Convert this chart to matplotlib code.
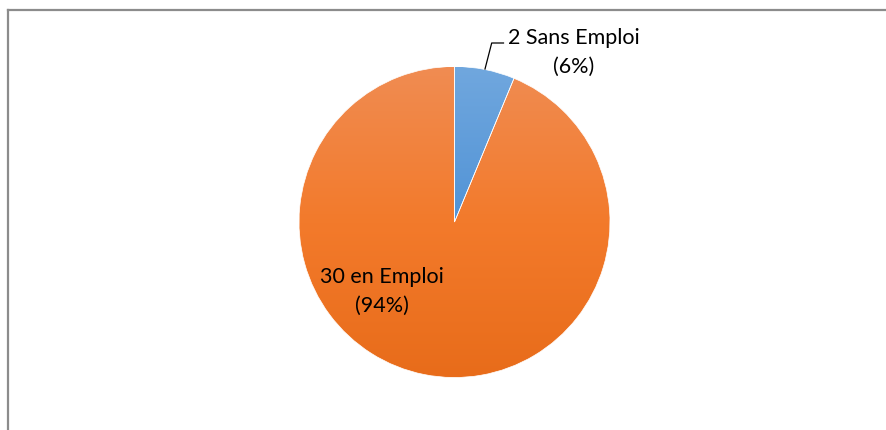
import numpy as np
import matplotlib
matplotlib.use("Agg")
import matplotlib.pyplot as plt
from matplotlib.colors import LinearSegmentedColormap
from matplotlib.lines import Line2D

# --- Data ---
categories = ["Sans Emploi", "en Emploi"]
counts = [2, 30]
# gradient (top, middle, bottom colour) per slice
top_colors = ["#70A7DE", "#F08C52"]
mid_colors = ["#5193D6", "#F37A2B"]
bottom_colors = ["#4285CF", "#E86C1A"]

plt.rcParams["font.family"] = ["Lato", "DejaVu Sans"]

W, H = 886, 431
fig = plt.figure(figsize=(W / 100, H / 100), dpi=100)
fig.patch.set_facecolor("white")
ax = fig.add_axes([0, 0, 1, 1])

cx, cy, r = 454.5, H - 223, 155.5
wedges, _ = ax.pie(counts, startangle=90, counterclock=False,
                   center=(cx, cy), radius=r, colors=mid_colors,
                   wedgeprops=dict(linewidth=0), frame=True)
ax.set_xlim(0, W)
ax.set_ylim(0, H)
ax.set_aspect("equal")
ax.axis("off")

# vertical gradient fill clipped to each wedge
grad = np.linspace(0, 1, 256).reshape(-1, 1)
for w, c_top, c_mid, c_bot in zip(wedges, top_colors, mid_colors, bottom_colors):
    cmap = LinearSegmentedColormap.from_list("g", [c_top, c_mid, c_bot])
    im = ax.imshow(grad, cmap=cmap, aspect="auto",
                   extent=(cx - r, cx + r, cy - r, cy + r), origin="upper",
                   zorder=2)
    im.set_clip_path(w)

# thin separator between slices
for w in wedges:
    w.set_facecolor("none")
    w.set_edgecolor("white")
    w.set_linewidth(0.5)
    w.set_zorder(3)

total = sum(counts)
labels = [f"{n} {c}\n({round(100 * n / total)}%)" for n, c in zip(counts, categories)]

ax.text(573.5, H - 52, labels[0], ha="center", va="center", fontsize=15.5,
        linespacing=1.55, color="black", zorder=4)
ax.text(382, H - 291.5, labels[1], ha="center", va="center", fontsize=15.5,
        linespacing=1.55, color="black", zorder=4)

# leader line for the small slice
ax.add_line(Line2D([485, 491.7, 503.5], [H - 70, H - 44, H - 44],
                   color="black", lw=0.9, zorder=4))

# chart frame (top and left edges)
ax.add_line(Line2D([8.5, W], [H - 11, H - 11], color="#8C8C8C", lw=1.6, zorder=5))
ax.add_line(Line2D([8.5, 8.5], [0, H - 11], color="#8C8C8C", lw=1.6, zorder=5))

fig.savefig("out.png", dpi=100, facecolor="white")
